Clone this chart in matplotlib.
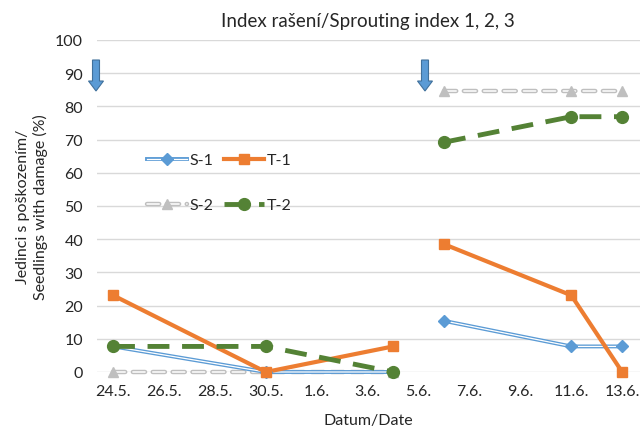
import matplotlib
matplotlib.use("Agg")
import matplotlib.pyplot as plt
import matplotlib.patheffects as pe
from matplotlib.patches import FancyArrow
from matplotlib.legend_handler import HandlerTuple
import numpy as np

plt.rcParams['font.family'] = ['Lato', 'DejaVu Sans']

# days counted from 24.5.
days = [0, 6, 11, 13, 18, 20]
tick_days = list(range(0, 21, 2))
tick_labels = ["24.5.", "26.5.", "28.5.", "30.5.", "1.6.", "3.6.", "5.6.", "7.6.", "9.6.", "11.6.", "13.6."]

s1 = [7.7, 0, 0, 15.4, 7.7, 7.7]
t1 = [23.1, 0, 7.7, 38.5, 23.1, 0]
s2 = [0, 0, 0, 84.6, 84.6, 84.6]
t2 = [7.7, 7.7, 0, 69.2, 76.9, 76.9]

W, H = 643, 431
fig = plt.figure(figsize=(W / 100, H / 100), dpi=100)
ax = fig.add_axes([97 / W, 1 - 373 / H, (640 - 97) / W, (373 - 41) / H])

blue = "#5B9BD5"
orange = "#ED7D31"
gray = "#BFBFBF"
green = "#548235"

def split(vals):
    return (days[:3], vals[:3]), (days[3:], vals[3:])

def dbl(color, w):
    return [pe.Stroke(linewidth=w, foreground=color), pe.Normal()]

handles = {}
specs = [
    ("S-2", s2, dict(color="white", lw=1.1, ls=(0, (8, 5)), dash_capstyle="round",
                     path_effects=dbl(gray, 3.2)), dict(marker="^", ms=7, color=gray)),
    ("S-1", s1, dict(color="white", lw=0.9, path_effects=dbl(blue, 2.8)),
     dict(marker="D", ms=6.5, color=blue)),
    ("T-1", t1, dict(color=orange, lw=3), dict(marker="s", ms=7, color=orange)),
    ("T-2", t2, dict(color=green, lw=3.5, ls=(0, (4.5, 2.6))), dict(marker="o", ms=8.5, color=green)),
]
for name, vals, lkw, mkw in specs:
    for i, (xs, ys) in enumerate(split(vals)):
        ln, = ax.plot(xs, ys, clip_on=False, zorder=3, **lkw)
        mk, = ax.plot(xs, ys, ls="none", clip_on=False, zorder=3.1, **mkw)
        if i == 0:
            handles[name] = (ln, mk)

ax.set_xlim(-0.63, 20.7)
ax.set_ylim(0, 100)
ax.set_yticks(range(0, 101, 10))
ax.set_xticks(tick_days)
ax.set_xticklabels(tick_labels)
ax.tick_params(length=0, labelsize=11.5, colors="#262626", pad=9)
ax.tick_params(axis="y", pad=10)
ax.grid(axis="y", color="#D9D9D9", lw=1)
ax.set_axisbelow(True)
for s in ax.spines.values():
    s.set_visible(False)

fig.text(368 / W, 1 - 22 / H, "Index rašení/Sprouting index 1, 2, 3", ha="center", va="center",
         fontsize=13.5, color="#262626")
fig.text(368 / W, 1 - 421 / H, "Datum/Date", ha="center", va="center", fontsize=11.5, color="#262626")
fig.text(32 / W, 1 - 207 / H, "Jedinci s poškozením/\nSeedlings with damage (%)", ha="center",
         va="center", rotation=90, fontsize=11.5, color="#262626", linespacing=1.3)

leg = ax.legend([handles["S-1"], handles["S-2"], handles["T-1"], handles["T-2"]],
                ["S-1", "S-2", "T-1", "T-2"], ncol=2, frameon=False,
                handler_map={tuple: HandlerTuple(ndivide=1, pad=0)},
                loc="upper left", bbox_to_anchor=(139 / W, 1 - 146 / H), bbox_transform=fig.transFigure,
                fontsize=11.5, labelspacing=1.95, handlelength=2.5, handletextpad=0.15,
                columnspacing=0.7, borderpad=0)
for t in leg.get_texts():
    t.set_color("#262626")

# arrows (figure pixel coords)
for xa in (96, 425):
    arr = FancyArrow(xa / W, 1 - 61 / H, 0, -31 / H, width=7 / W, head_width=15 / W,
                     head_length=10 / H, length_includes_head=True, transform=fig.transFigure,
                     facecolor=blue, edgecolor="#41719C", lw=0.8)
    fig.patches.append(arr)

fig.savefig("out.png", dpi=100)
